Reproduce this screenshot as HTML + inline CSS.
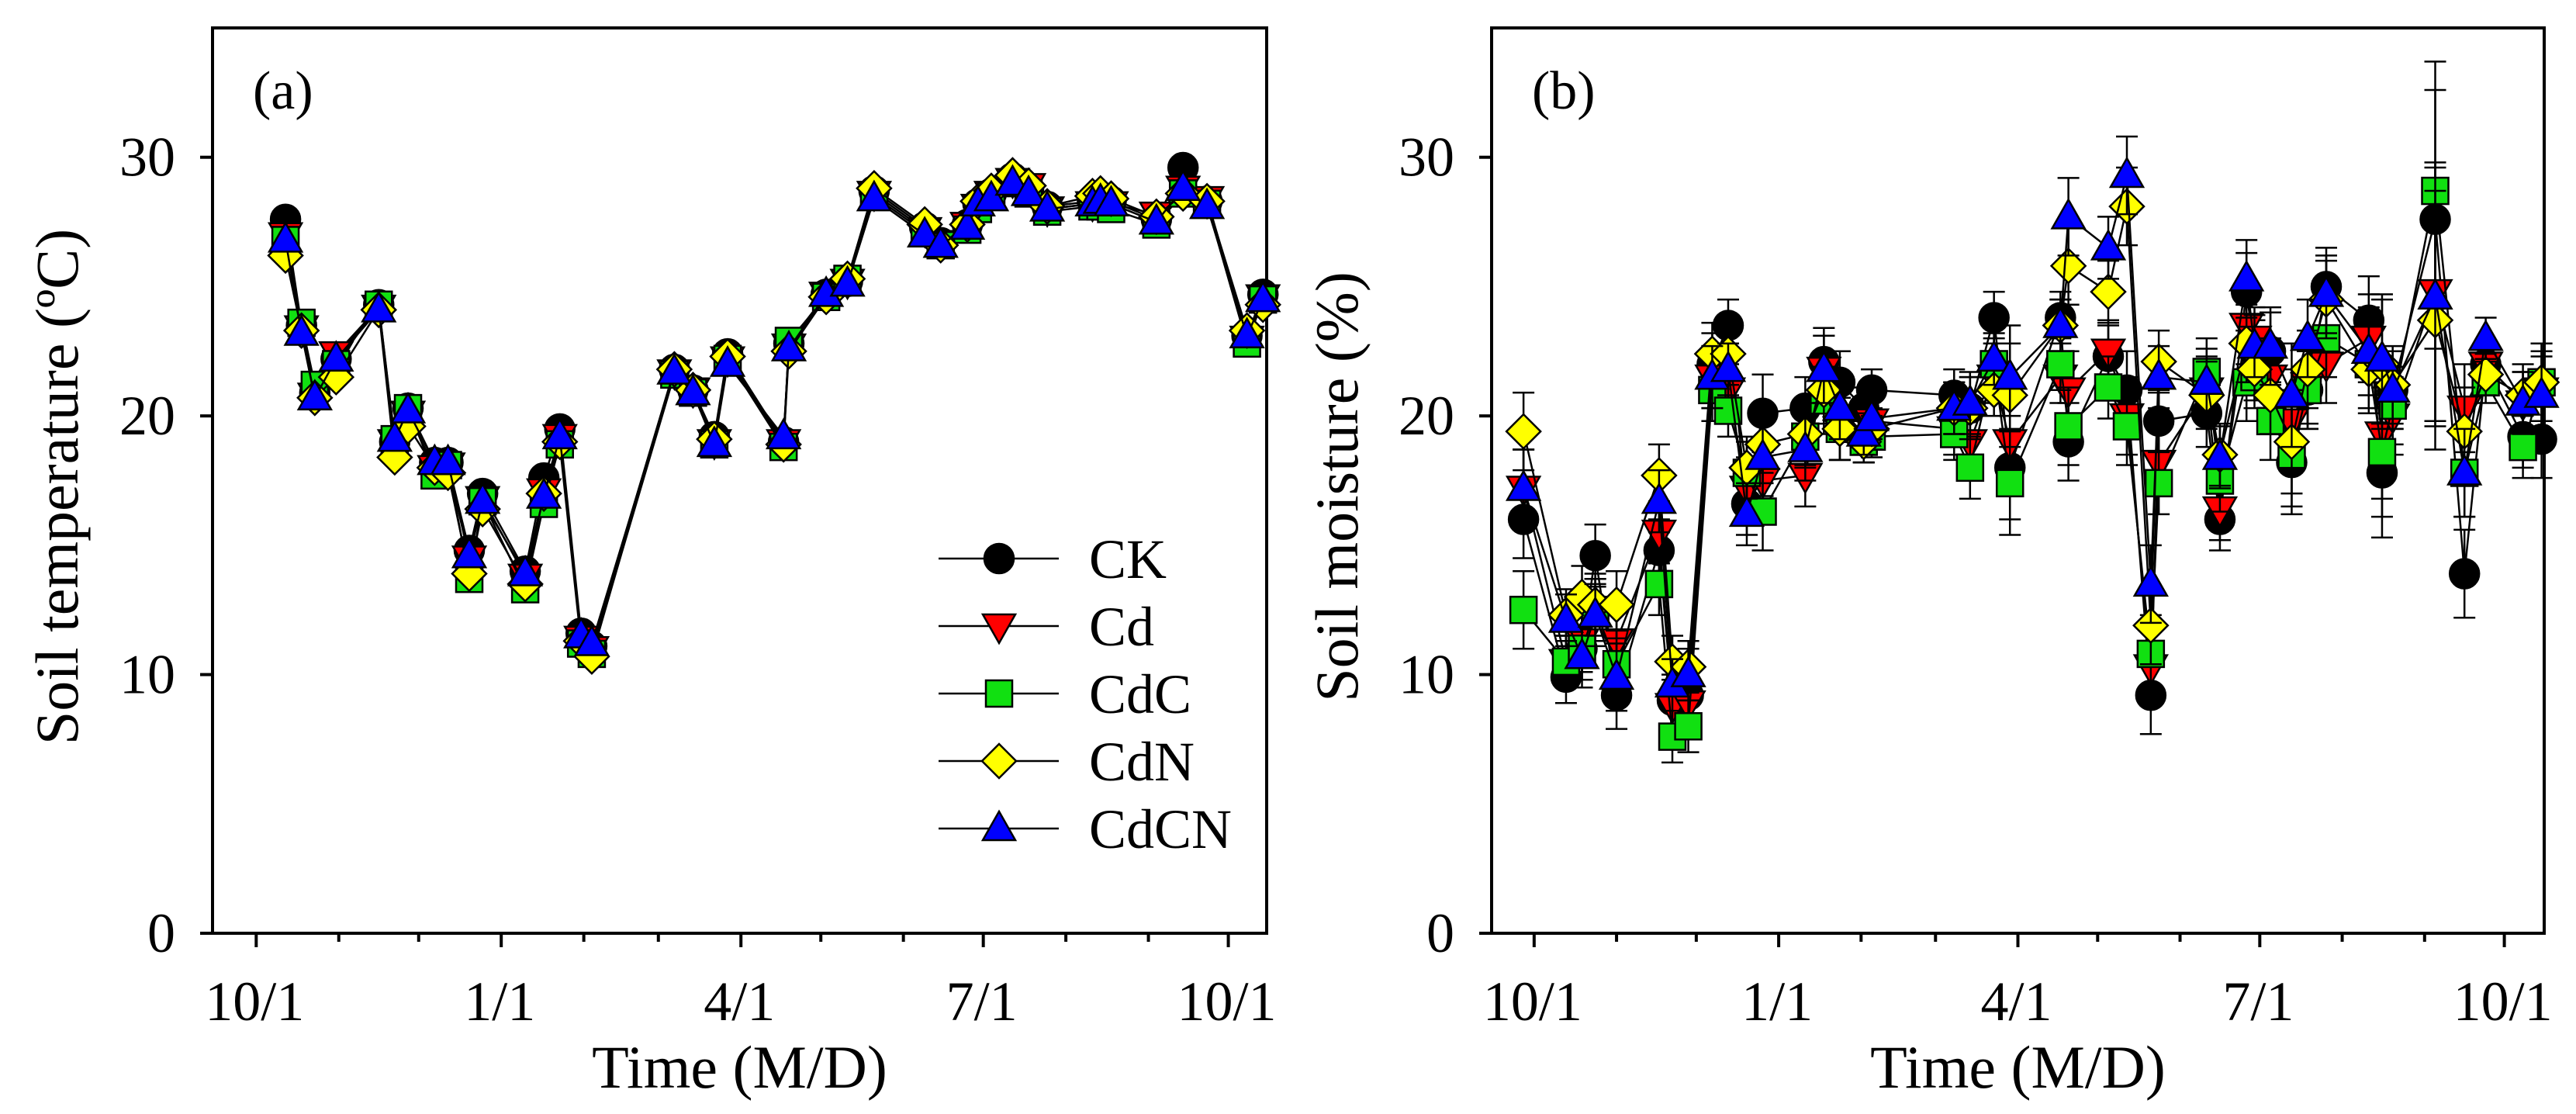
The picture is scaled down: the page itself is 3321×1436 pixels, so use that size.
<!DOCTYPE html>
<html><head><meta charset="utf-8"><style>
html,body{margin:0;padding:0;background:#fff;}
svg{display:block;font-family:"Liberation Serif",serif;}
</style></head><body>
<svg id="fig" width="3321" height="1436" viewBox="0 0 3321 1436" xmlns="http://www.w3.org/2000/svg">
<g id="pa"></g>
<g id="pb"></g>
</svg>
<script>
// ---- data: panel (a) soil temperature; days since 10/1 ----
const seriesNames = ["CK","Cd","CdC","CdN","CdCN"];
const tickLabelsX = ["10/1","1/1","4/1","7/1","10/1"];
const tickDaysX = [0,92,182,273,365];
const tickLabelsY = ["0","10","20","30"];
const tickValsY = [0,10,20,30];
const daysA = [11,17,22,30,46,52,57,67,72,80,85,101,108,114,122,126,157,164,172,177,198,200,214,222,232,251,257,267,271,276,284,290,297,314,317,321,338,348,357,372,378];
const tempCK  = [27.6,23.5,20.9,22.2,24.3,19.0,20.3,18.2,18.2,14.8,17.0,14.0,17.6,19.5,11.6,11.1,21.8,21.0,19.2,22.4,19.0,22.8,24.7,25.2,28.7,27.3,26.7,27.4,28.2,28.6,29.2,28.8,28.1,28.3,28.4,28.3,27.6,29.6,28.3,23.1,24.7];
const tempCd  = [27.0,23.4,20.8,22.4,24.2,19.0,20.1,18.0,18.1,14.5,16.8,13.8,17.1,19.2,11.4,11.0,21.7,21.0,19.0,22.2,19.0,22.7,24.7,25.2,28.6,27.2,26.7,27.4,28.1,28.6,29.1,28.9,28.0,28.2,28.3,28.2,27.8,28.8,28.4,23.0,24.6];
const tempCdC = [26.8,23.6,21.2,22.0,24.3,19.1,20.3,17.7,18.1,13.7,16.7,13.3,16.6,18.9,11.2,10.8,21.6,20.9,18.9,22.2,18.8,22.9,24.6,25.3,28.5,27.1,26.6,27.2,28.0,28.5,29.0,28.6,27.9,28.1,28.1,28.0,27.4,28.6,28.2,22.8,24.5];
const tempCdN = [26.2,23.3,20.7,21.5,24.1,18.4,19.6,18.0,17.8,13.9,16.4,13.5,17.0,19.0,11.3,10.7,21.8,21.0,19.1,22.3,18.9,22.5,24.6,25.3,28.8,27.4,26.6,27.4,28.3,28.7,29.3,28.9,28.1,28.5,28.6,28.4,27.7,28.6,28.3,23.3,24.3];
const tempCdCN= [26.8,23.2,20.7,22.2,24.1,19.1,20.2,18.2,18.2,14.6,16.7,13.9,16.9,19.2,11.5,11.2,21.7,20.9,18.9,22.0,19.2,22.6,24.7,25.1,28.4,27.0,26.6,27.3,28.2,28.4,29.0,28.6,28.0,28.2,28.3,28.2,27.5,28.8,28.1,23.1,24.5];
// ---- data: panel (b) soil moisture ----
const daysB = [-4,12,18,23,31,47,52,58,67,73,80,86,102,109,115,124,127,158,164,173,179,198,201,216,223,232,235,253,258,268,271,277,285,291,298,314,319,323,339,350,358,372,379];
const moistCK  = [16.0,9.9,11.0,14.6,9.2,14.8,9.0,9.2,22.0,23.5,16.6,20.1,20.3,22.1,21.3,20.3,21.0,20.8,20.3,23.8,18.0,23.8,19.0,22.3,21.0,9.2,19.8,20.1,16.0,24.8,22.5,22.5,18.2,21.0,25.0,23.7,17.8,21.0,27.6,13.9,22.0,19.2,19.1];
const moistCd  = [17.2,10.5,11.3,12.5,11.3,15.5,8.8,8.9,21.5,21.0,17.2,17.5,17.7,21.8,19.5,19.0,19.8,19.5,19.0,21.5,19.0,21.5,21.0,22.5,20.0,10.3,18.2,21.0,16.4,23.5,23.0,21.5,19.8,21.2,22.0,23.0,19.3,20.0,24.8,20.3,22.0,20.5,21.0];
const moistCdC = [12.5,10.5,11.0,12.5,10.4,13.5,7.6,8.0,21.0,20.2,17.8,16.3,19.2,20.6,19.5,19.0,19.2,19.3,18.0,22.0,17.4,22.0,19.6,21.1,19.6,10.8,17.4,21.7,17.5,21.3,21.5,19.8,18.5,21.0,23.0,22.0,18.6,20.4,28.7,17.8,21.3,18.8,21.3];
const moistCdN = [19.4,12.3,13.0,12.7,12.7,17.7,10.5,10.3,22.4,22.4,18.0,18.9,19.3,21.0,19.5,19.0,19.5,20.3,20.3,21.0,20.8,23.5,25.8,24.8,28.1,11.9,22.1,20.8,18.5,22.8,21.8,20.8,19.0,21.8,24.5,21.8,22.0,21.2,23.7,19.4,21.6,20.8,21.3];
const moistCdCN= [17.2,12.1,10.7,12.3,9.9,16.7,9.6,10.0,21.5,21.8,16.2,18.4,18.7,21.8,20.3,19.3,19.9,20.3,20.5,22.2,21.5,23.5,27.7,26.5,29.3,13.5,21.5,21.3,18.4,25.3,22.7,22.7,20.8,23.0,24.7,22.5,22.2,21.0,24.6,17.8,23.0,20.5,20.8];
const errB = [1.5,1.0,1.2,1.2,1.3,1.2,1.0,1.0,1.2,1.0,1.2,1.5,1.2,1.3,1.2,0.8,0.8,1.0,1.2,1.0,2.0,1.0,1.5,1.2,1.5,1.5,1.2,1.3,1.2,1.5,1.2,1.5,2.0,1.5,1.5,1.7,2.5,1.5,5.0,1.7,0.8,1.2,1.5];

const NS="http://www.w3.org/2000/svg";
function mk(tag,attrs,parent){const e=document.createElementNS(NS,tag);for(const k in attrs)e.setAttribute(k,attrs[k]);if(parent)parent.appendChild(e);return e;}
const fills={CK:"#000000",Cd:"#ff0000",CdC:"#11e011",CdN:"#ffff00",CdCN:"#0000ff"};
const shapes={CK:"circle",Cd:"tdown",CdC:"square",CdN:"diamond",CdCN:"tup"};
function marker(g,name,x,y){
  const f=fills[name],s=shapes[name];let e;
  if(s==="circle")e=mk("circle",{cx:x,cy:y,r:19},g);
  else if(s==="square")e=mk("rect",{x:x-17,y:y-17,width:34,height:34},g);
  else if(s==="diamond")e=mk("polygon",{points:`${x},${y-22} ${x+22},${y} ${x},${y+22} ${x-22},${y}`},g);
  else if(s==="tup")e=mk("polygon",{points:`${x},${y-22} ${x+21},${y+15} ${x-21},${y+15}`},g);
  else e=mk("polygon",{points:`${x},${y+22} ${x+21},${y-15} ${x-21},${y-15}`},g);
  e.setAttribute("fill",f);e.setAttribute("stroke","#000");e.setAttribute("stroke-width","2.5");
  
  
  return e;
}
function panel(gid,cfg){
  const g=document.getElementById(gid);
  const {L,R,T,B,d0,d1}=cfg;
  const X=d=>L+(d-d0)/(d1-d0)*(R-L);
  const Y=v=>B-v/35*(B-T);
  const frame=mk("rect",{x:L,y:T,width:R-L,height:B-T,fill:"none",stroke:"#000","stroke-width":4},g);
  
  
  for(let m=0;m<=12;m++){
    const d=[0,31,61,92,123,151,182,212,243,273,304,335,365][m];
    const big=tickDaysX.includes(d);
    const t=mk("line",{x1:X(d),x2:X(d),y1:B,y2:B+(big?18:11),stroke:"#000","stroke-width":4},g);
    
    
  }
  tickLabelsX.forEach((lb,i)=>{
    const t=mk("text",{x:X(tickDaysX[i])-2,y:B+112,"font-size":72,"text-anchor":"middle"},g);t.textContent=lb;
    
    
  });
  tickValsY.forEach((v,i)=>{
    const t=mk("line",{x1:L-16,x2:L,y1:Y(v),y2:Y(v),stroke:"#000","stroke-width":4},g);
    
    
    const tx=mk("text",{x:L-48,y:Y(v)+24,"font-size":72,"text-anchor":"end"},g);tx.textContent=tickLabelsY[i];
    
    
  });
  const xt=mk("text",{x:(L+R)/2,y:1402,"font-size":78,"text-anchor":"middle"},g);xt.textContent="Time (M/D)";
  
  
  const yt=mk("text",{x:0,y:0,"font-size":78,"text-anchor":"middle",transform:`translate(${cfg.ytx},${(T+B)/2+8}) rotate(-90)`},g);yt.textContent=cfg.ytitle;
  
  
  const pl=mk("text",{x:L+52,y:140,"font-size":70},g);pl.textContent=cfg.label;
  
  
  const data=cfg.series;
  seriesNames.forEach((n,si)=>{
    const sg=mk("g",{},g);
    
    
    const vals=data[si];
    const pts=cfg.days.map((d,i)=>X(d)+","+Y(vals[i])).join(" ");
    const ln=mk("polyline",{points:pts,fill:"none",stroke:"#000","stroke-width":2.5},sg);
    
    
    if(cfg.err){
      cfg.days.forEach((d,i)=>{
        const x=X(d),y1=Y(vals[i]-cfg.err[i]),y2=Y(vals[i]+cfg.err[i]);
        const eb=mk("path",{d:`M${x},${y1}V${y2}M${x-14},${y1}H${x+14}M${x-14},${y2}H${x+14}`,stroke:"#000","stroke-width":2.5,fill:"none"},sg);
        
        
      });
    }
    cfg.days.forEach((d,i)=>marker(sg,n,X(d),Y(vals[i])));
  });
  return {X,Y};
}
panel("pa",{L:274,R:1633,T:36,B:1203,d0:-16.4,d1:379.4,ytx:100,ytitle:"Soil temperature (ºC)",label:"(a)",days:daysA,series:[tempCK,tempCd,tempCdC,tempCdN,tempCdCN]});
panel("pb",{L:1923,R:3280,T:36,B:1203,d0:-16,d1:380,ytx:1750,ytitle:"Soil moisture (%)",label:"(b)",days:daysB,series:[moistCK,moistCd,moistCdC,moistCdN,moistCdCN],err:errB});
const lg=document.createElementNS(NS,"g");


document.getElementById("pa").appendChild(lg);
seriesNames.forEach((n,i)=>{
  const y=720+i*87;
  const row=mk("g",{},lg);
  
  
  mk("line",{x1:1210,x2:1365,y1:y,y2:y,stroke:"#000","stroke-width":2.5},row);
  marker(row,n,1288,y);
  const t=mk("text",{x:1404,y:y+25,"font-size":72},row);t.textContent=n;
});
</script>
</body></html>
